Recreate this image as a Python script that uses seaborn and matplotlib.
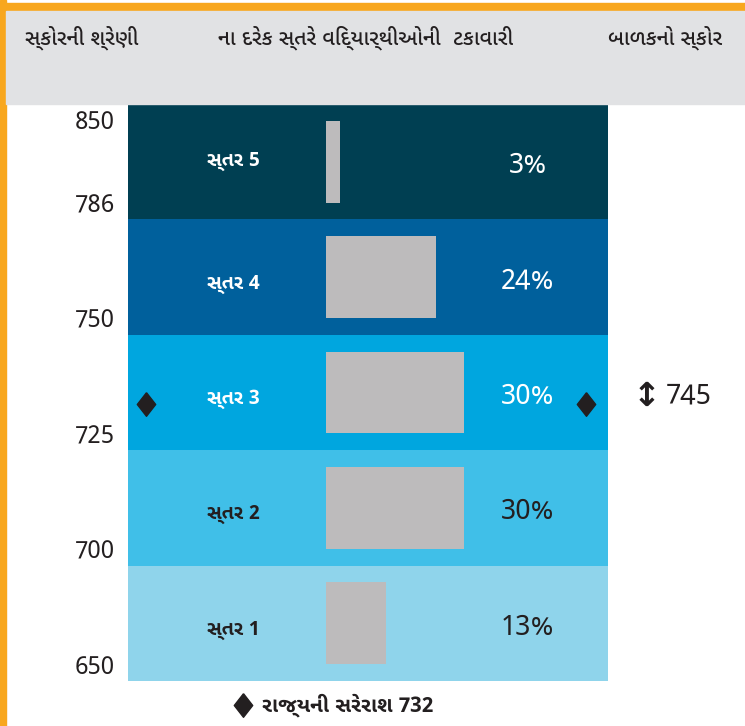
import matplotlib
matplotlib.use("Agg")
import matplotlib.pyplot as plt
from matplotlib.patches import Rectangle
import seaborn as sns
import pandas as pd

# data
levels = ["સ્તર 5", "સ્તર 4", "સ્તર 3", "સ્તર 2", "સ્તર 1"]
pcts = [3, 24, 30, 30, 13]
score_cuts = [850, 786, 750, 725, 700, 650]
state_avg = 732
child_score = 745
headers = ["સ્કોરની શ્રેણી", "ના દરેક સ્તરે વિદ્યાર્થીઓની  ટકાવારી", "બાળકનો સ્કોર"]
legend_label = "રાજ્યની સરેરાશ"

band_colors = ["#003f52", "#00609c", "#00a6df", "#40bfe8", "#8fd4eb"]
text_colors = ["white", "white", "white", "#231f20", "#231f20"]

sns.set_theme(style="white")
plt.rcParams["font.family"] = ["Noto Sans Gujarati UI", "DejaVu Sans"]

df = pd.DataFrame({"level": levels, "pct": pcts})

# diamond a bit taller than wide
diamond = [(0, 1), (0.78, 0), (0, -1), (-0.78, 0), (0, 1)]

W, H = 745, 726
fig = plt.figure(figsize=(W / 100, H / 100), dpi=100)
fig.patch.set_facecolor("white")

# frame: orange border + grey header
fig.patches.append(Rectangle((0, 0), 6 / W, 1, transform=fig.transFigure,
                             color="#f8a71e", zorder=0))
fig.patches.append(Rectangle((0, 1 - 11 / H), 1, 8 / H, transform=fig.transFigure,
                             color="#f8a71e", zorder=0))
fig.patches.append(Rectangle((6 / W, 1 - 104 / H), 1, 93 / H, transform=fig.transFigure,
                             color="#e1e2e4", zorder=0))

ax = fig.add_axes([128 / W, (H - 681) / H, 480 / W, 577 / H])
sns.barplot(data=df, x="pct", y="level", orient="h", color="#bdbbbc",
            saturation=1, width=0.71, linewidth=0, edgecolor="none", ax=ax, zorder=3)
ax.set_xlim(-43, 61.3)
ax.set_ylim(4.5, -0.5)
for i, c in enumerate(band_colors):
    ax.axhspan(i - 0.5, i + 0.5, color=c, lw=0, zorder=1)
ax.set_axis_off()

ty = ax.get_yaxis_transform()
for i, (lv, p) in enumerate(zip(levels, pcts)):
    ax.text(0.219, i + (0.0 if i == 0 else 0.06), lv, transform=ty, ha="center", va="center",
            fontsize=14, fontweight="bold", color=text_colors[i], zorder=4)
    ax.text(0.833, i + 0.03, f"{p}%", transform=ty, ha="center", va="center",
            fontsize=20, color=text_colors[i], zorder=4)

# score range labels at band edges
for j, s in enumerate(score_cuts):
    y = -0.5 + 0.16 if j == 0 else j - 0.5 - 0.12
    ax.text(-0.027, y, str(s), transform=ty, ha="right", va="center",
            fontsize=17.5, color="#231f20")

# state average diamonds and child score
band_idx = next(i for i in range(5) if score_cuts[i + 1] <= state_avg < score_cuts[i])
ax.plot([0.0375, 0.954], [band_idx + 0.1] * 2, transform=ty, ls="none",
        marker=diamond, ms=17, color="#231f20", clip_on=False, zorder=5)
child_idx = next(i for i in range(5) if score_cuts[i + 1] <= child_score < score_cuts[i])
ax.text(1.081, child_idx + 0.03, "\u2195", transform=ty, ha="center", va="center",
        fontsize=24, fontweight="bold", color="#231f20", family="DejaVu Sans")
ax.text(1.12, child_idx + 0.03, str(child_score), transform=ty, ha="left", va="center",
        fontsize=20, color="#231f20")

# header texts
fig.text(25 / W, 1 - 38 / H, headers[0], ha="left", va="center", fontsize=15.2,
         fontweight="medium", color="#231f20")
fig.text(218 / W, 1 - 38 / H, headers[1], ha="left", va="center", fontsize=15.2,
         fontweight="medium", color="#231f20")
fig.text(608 / W, 1 - 38 / H, headers[2], ha="left", va="center", fontsize=15.2,
         fontweight="medium", color="#231f20")

# legend
fig.lines.append(plt.Line2D([243 / W], [1 - 705 / H], transform=fig.transFigure,
                            marker=diamond, ms=17, color="#231f20", ls="none"))
fig.text(262 / W, 1 - 705 / H, f"{legend_label} {state_avg}", ha="left", va="center",
         fontsize=15, fontweight="bold", color="#231f20")

fig.savefig("out.png", dpi=100)
